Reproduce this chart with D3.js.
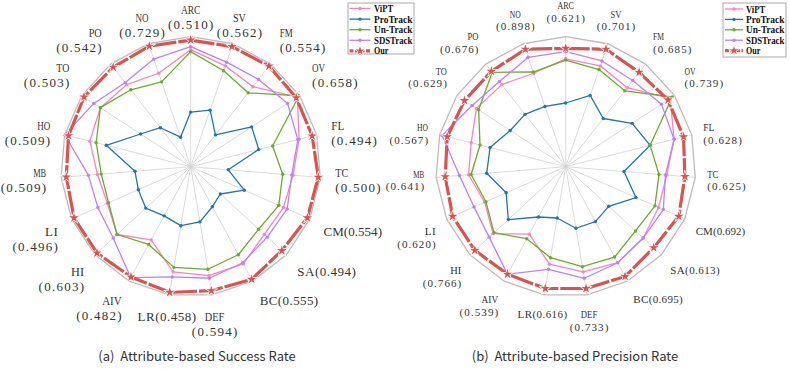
<!DOCTYPE html>
<html>
<head>
<meta charset="utf-8">
<script src="https://cdn.jsdelivr.net/npm/d3@7"></script>
<style>
    body { margin: 0; background: #fff; }
    svg { display: block; }
    .lab { font-family: "Liberation Serif", serif; fill: #333; }
    .leg { font-family: "Liberation Serif", serif; font-weight: bold; fill: #111; }
    .cap { font-family: "Noto Sans CJK SC", "Noto Sans", sans-serif; fill: #333; white-space: pre; }
    .star { paint-order: stroke; }
</style>
</head>
<body>
<script>
// attributes, clockwise from the top
var attributes = ["ARC", "SV", "FM", "OV", "FL", "TC", "CM", "SA", "BC", "DEF",
    "LR", "AIV", "HI", "LI", "MB", "HO", "TO", "PO", "NO"];
var inlineLabels = ["CM", "SA", "BC", "LR"];
var trackers = ["ViPT", "ProTrack", "Un-Track", "SDSTrack", "Our"];

// scores printed next to each attribute
var ourSR = [0.510, 0.562, 0.554, 0.658, 0.494, 0.500, 0.554, 0.494, 0.555, 0.594,
    0.458, 0.482, 0.603, 0.496, 0.509, 0.509, 0.503, 0.542, 0.729];
var ourPR = [0.621, 0.701, 0.685, 0.739, 0.628, 0.625, 0.692, 0.613, 0.695, 0.733,
    0.616, 0.539, 0.766, 0.620, 0.641, 0.567, 0.629, 0.676, 0.898];

// normalised radius of every tracker on each axis (0 = centre, 1 = outer ring)
var srViPT     = [0.90, 0.82, 0.78, 0.98, 0.86, 0.79, 0.78, 0.77, 0.85, 0.85, 0.82, 0.64, 0.77, 0.70, 0.72, 0.80, 0.83, 0.80, 0.76];
var srProTrack = [0.42, 0.46, 0.31, 0.56, 0.54, 0.29, 0.45, 0.31, 0.35, 0.43, 0.46, 0.43, 0.47, 0.44, 0.43, 0.67, 0.46, 0.38, 0.24];
var srUnTrack  = [0.885, 0.78, 0.72, 0.995, 0.65, 0.71, 0.74, 0.71, 0.77, 0.80, 0.785, 0.68, 0.77, 0.69, 0.69, 0.75, 0.83, 0.75, 0.69];
var srSDSTrack = [0.923, 0.85, 0.85, 0.89, 0.85, 0.78, 0.81, 0.80, 0.84, 0.87, 0.86, 0.97, 0.81, 0.78, 0.79, 1.0, 0.89, 0.82, 0.875];
var srOur      = [0.974, 0.977, 0.98, 0.97, 0.964, 0.985, 0.98, 0.953, 0.985, 0.967, 0.98, 0.965, 0.98, 0.98, 0.96, 0.97, 0.98, 0.97, 0.98];

var prViPT     = [0.83, 0.82, 0.77, 0.96, 0.86, 0.78, 0.78, 0.81, 0.84, 0.82, 0.76, 0.59, 0.76, 0.68, 0.75, 0.75, 0.82, 0.80, 0.76];
var prProTrack = [0.49, 0.58, 0.47, 0.61, 0.67, 0.45, 0.59, 0.45, 0.48, 0.48, 0.40, 0.44, 0.60, 0.50, 0.61, 0.60, 0.51, 0.51, 0.49];
var prUnTrack  = [0.82, 0.79, 0.74, 0.98, 0.67, 0.72, 0.75, 0.73, 0.79, 0.78, 0.71, 0.63, 0.75, 0.67, 0.73, 0.68, 0.80, 0.92, 0.77];
var prSDSTrack = [0.885, 0.86, 0.84, 0.88, 0.86, 0.77, 0.82, 0.81, 0.84, 0.87, 0.80, 0.94, 0.80, 0.77, 0.82, 0.98, 0.86, 0.83, 0.89];
var prOur      = [0.91, 0.955, 0.92, 0.94, 0.935, 0.92, 0.95, 0.92, 0.96, 0.95, 0.95, 0.94, 0.95, 0.95, 0.93, 0.94, 0.93, 0.93, 0.955];

var colors = ["#ff80c0", "#2273b6", "#6aac2a", "#bb80ff", "#d9534f"];

var svg = d3.select("body").append("svg")
    .attr("width", 789)
    .attr("height", 369);

radar({
    cx: 190.7, cy: 166.7, R: 130,
    series: [srViPT, srProTrack, srUnTrack, srSDSTrack, srOur],
    scores: ourSR,
    fs: 13, lineH: 15, labelR: 145, topR: 150, topOff: 6.5, botOff: -5,
    legend: {x: 348, y: 3, w: 66, h: 51, row0: 5.5, step: 10.6, l0: 1.5, l1: 22.5, tx: 26},
    caption: "(a)  Attribute-based Success Rate", capX: 197, capY: 355
});
radar({
    cx: 565.7, cy: 166.7, R: 130,
    series: [prViPT, prProTrack, prUnTrack, prSDSTrack, prOur],
    scores: ourPR,
    fs: 11, lineH: 12.5, labelR: 142, topR: 155, topOff: 7.6, botOff: -6,
    legend: {x: 723, y: 3, w: 63, h: 54, row0: 6, step: 10.4, l0: 2, l1: 20, tx: 23},
    caption: "(b)  Attribute-based Precision Rate", capX: 575, capY: 355
});

// squeeze or spread a text so each character takes half an em (like SimSun)
function monoWidth(sel, fs) {
    var node = sel.node(),
        target = sel.text().length * fs * 0.5,
        natural = node.getComputedTextLength();
    sel.attr("textLength", target)
        .attr("lengthAdjust", natural > target ? "spacingAndGlyphs" : "spacing");
}

function radar(o) {
    var n = attributes.length,
        step = 2 * Math.PI / n,
        r = d3.scaleLinear().domain([0, 1]).range([0, o.R]);

    var g = svg.append("g")
        .attr("transform", "translate(" + o.cx + "," + o.cy + ")");

    // spokes + outer ring
    g.selectAll(".spoke")
        .data(attributes)
        .enter().append("line")
        .attr("class", "spoke")
        .attr("x1", 0).attr("y1", 0)
        .attr("x2", function(d, i) { return d3.pointRadial(i * step, r(1))[0]; })
        .attr("y2", function(d, i) { return d3.pointRadial(i * step, r(1))[1]; })
        .attr("stroke", "#d2d2d2")
        .attr("stroke-width", 0.8);

    var ring = d3.lineRadial()
        .angle(function(d, i) { return i * step; })
        .radius(function() { return r(1); })
        .curve(d3.curveLinearClosed);
    g.append("path")
        .attr("d", ring(attributes))
        .attr("fill", "none")
        .attr("stroke", "#bcbcbc")
        .attr("stroke-width", 1.3);

    var line = d3.lineRadial()
        .angle(function(d, i) { return i * step; })
        .radius(function(d) { return r(d); })
        .curve(d3.curveLinearClosed);

    o.series.forEach(function(vals, s) {
        var isOur = s === 4;
        g.append("path")
            .attr("d", line(vals))
            .attr("fill", "none")
            .attr("stroke", colors[s])
            .attr("stroke-width", isOur ? 3.2 : 1.3)
            .attr("stroke-dasharray", isOur ? "24,2" : null)
            .attr("stroke-linejoin", "round");

        var pts = g.selectAll(".m" + s)
            .data(vals)
            .enter();
        if (isOur) {
            pts.append("path")
                .attr("class", "star")
                .attr("d", d3.symbol(d3.symbolStar).size(28))
                .attr("transform", function(d, i) {
                    var p = d3.pointRadial(i * step, r(d));
                    return "translate(" + p[0] + "," + p[1] + ")";
                })
                .attr("fill", colors[s])
                .attr("stroke", "#fff")
                .attr("stroke-width", 1.4);
        } else {
            pts.append("circle")
                .attr("cx", function(d, i) { return d3.pointRadial(i * step, r(d))[0]; })
                .attr("cy", function(d, i) { return d3.pointRadial(i * step, r(d))[1]; })
                .attr("r", 1.7)
                .attr("fill", colors[s]);
        }
    });

    // axis labels
    attributes.forEach(function(name, i) {
        var a = i * step, sn = Math.sin(a), cs = Math.cos(a);
        var val = "(" + d3.format(".3f")(o.scores[i]) + ")";
        var lines = inlineLabels.indexOf(name) >= 0 ? [name + val] : [name, val];
        var top = Math.abs(sn) < 0.4 && cs > 0;
        var anchor = top ? "middle" : (sn > 0.4 ? "start" : (sn < -0.4 ? "end" : "middle"));
        var p = d3.pointRadial(a, top ? o.topR : o.labelR);
        var h = (lines.length - 1) * o.lineH, y0;
        if (top) y0 = p[1] - h / 2;
        else if (cs < -0.3) y0 = p[1] + o.topOff;
        else if (cs > 0.3) y0 = p[1] + o.botOff - h;
        else y0 = p[1] - h / 2 + 1.5;

        lines.forEach(function(t, k) {
            var txt = g.append("text")
                .attr("class", "lab")
                .attr("x", p[0])
                .attr("y", y0 + k * o.lineH)
                .attr("text-anchor", anchor)
                .attr("dominant-baseline", "central")
                .attr("font-size", o.fs)
                .text(t);
            monoWidth(txt, o.fs);
        });
    });

    // legend
    var L = o.legend;
    var lg = svg.append("g")
        .attr("transform", "translate(" + L.x + "," + L.y + ")");
    lg.append("rect")
        .attr("width", L.w).attr("height", L.h)
        .attr("fill", "#fff")
        .attr("stroke", "#a0a0a0")
        .attr("stroke-width", 0.9);
    trackers.forEach(function(t, s) {
        var y = L.row0 + s * L.step, isOur = s === 4;
        lg.append("line")
            .attr("x1", L.l0).attr("x2", L.l1)
            .attr("y1", y).attr("y2", y)
            .attr("stroke", colors[s])
            .attr("stroke-width", isOur ? 3.2 : 1.3)
            .attr("stroke-dasharray", isOur ? "4,1.5" : null);
        if (isOur) {
            lg.append("path")
                .attr("class", "star")
                .attr("d", d3.symbol(d3.symbolStar).size(24))
                .attr("transform", "translate(" + ((L.l0 + L.l1) / 2) + "," + y + ")")
                .attr("fill", colors[s])
                .attr("stroke", "#fff")
                .attr("stroke-width", 1.4);
        } else {
            lg.append("circle")
                .attr("cx", (L.l0 + L.l1) / 2).attr("cy", y)
                .attr("r", 1.7)
                .attr("fill", colors[s]);
        }
        var lt = lg.append("text")
            .attr("class", "leg")
            .attr("x", L.tx).attr("y", y)
            .attr("dominant-baseline", "central")
            .attr("font-size", 9.6)
            .text(t);
        monoWidth(lt, 9.6);
    });

    svg.append("text")
        .attr("class", "cap")
        .attr("x", o.capX).attr("y", o.capY)
        .attr("text-anchor", "middle")
        .attr("dominant-baseline", "central")
        .attr("font-size", 13)
        .text(o.caption);
}
</script>
</body>
</html>
